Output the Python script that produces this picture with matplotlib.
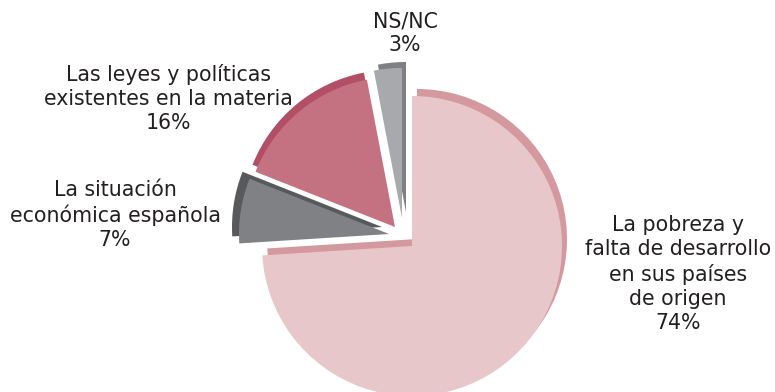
import matplotlib.pyplot as plt

# data
labels = ['La pobreza y\nfalta de desarrollo\nen sus países\nde origen',
          'La situación\neconómica española',
          'Las leyes y políticas\nexistentes en la materia',
          'NS/NC']
values = [74, 7, 16, 3]

fill_colors = ['#E8C7CB', '#808184', '#C47282', '#A8A9AD']
dark_colors = ['#D4999F', '#58595B', '#B24F66', '#7F8084']

# pixel offsets of each slice (x right, y up) and of its darker back face
slice_off = [(0, 0), (-23, 12), (-17, 19), (-10, 28)]
shadow_off = [(5, 7), (-7, 7), (-3, 7), (4, 6)]
label_pos = [(678, 274), (115, 215), (168, 98), (405, 33)]

W, H = 775, 392
fig = plt.figure(figsize=(W / 100, H / 100), dpi=100)
ax = fig.add_axes([0, 0, 1, 1])

cx, cy, r = 412, H - 246, 150

shadows, _ = ax.pie(values, colors=dark_colors, startangle=90, counterclock=False,
                    radius=r, center=(cx, cy), frame=True)
wedges, _ = ax.pie(values, colors=fill_colors, startangle=90, counterclock=False,
                   radius=r, center=(cx, cy), frame=True)
ax.set_xlim(0, W)
ax.set_ylim(0, H)
ax.set_aspect('equal')
ax.axis('off')

for i in range(len(values)):
    ox, oy = slice_off[i]
    sx, sy = shadow_off[i]
    shadows[i].set_center((cx + ox + sx, cy + oy + sy))
    shadows[i].set_zorder(1)
    wedges[i].set_center((cx + ox, cy + oy))
    wedges[i].set_zorder(2)

for i in range(len(values)):
    x, y = label_pos[i]
    ax.text(x, H - y, labels[i] + '\n' + str(values[i]) + '%', ha='center', va='center',
            fontsize=14.8, color='#231F20', family='DejaVu Sans', linespacing=1.25)

fig.savefig('out.png', dpi=100)
